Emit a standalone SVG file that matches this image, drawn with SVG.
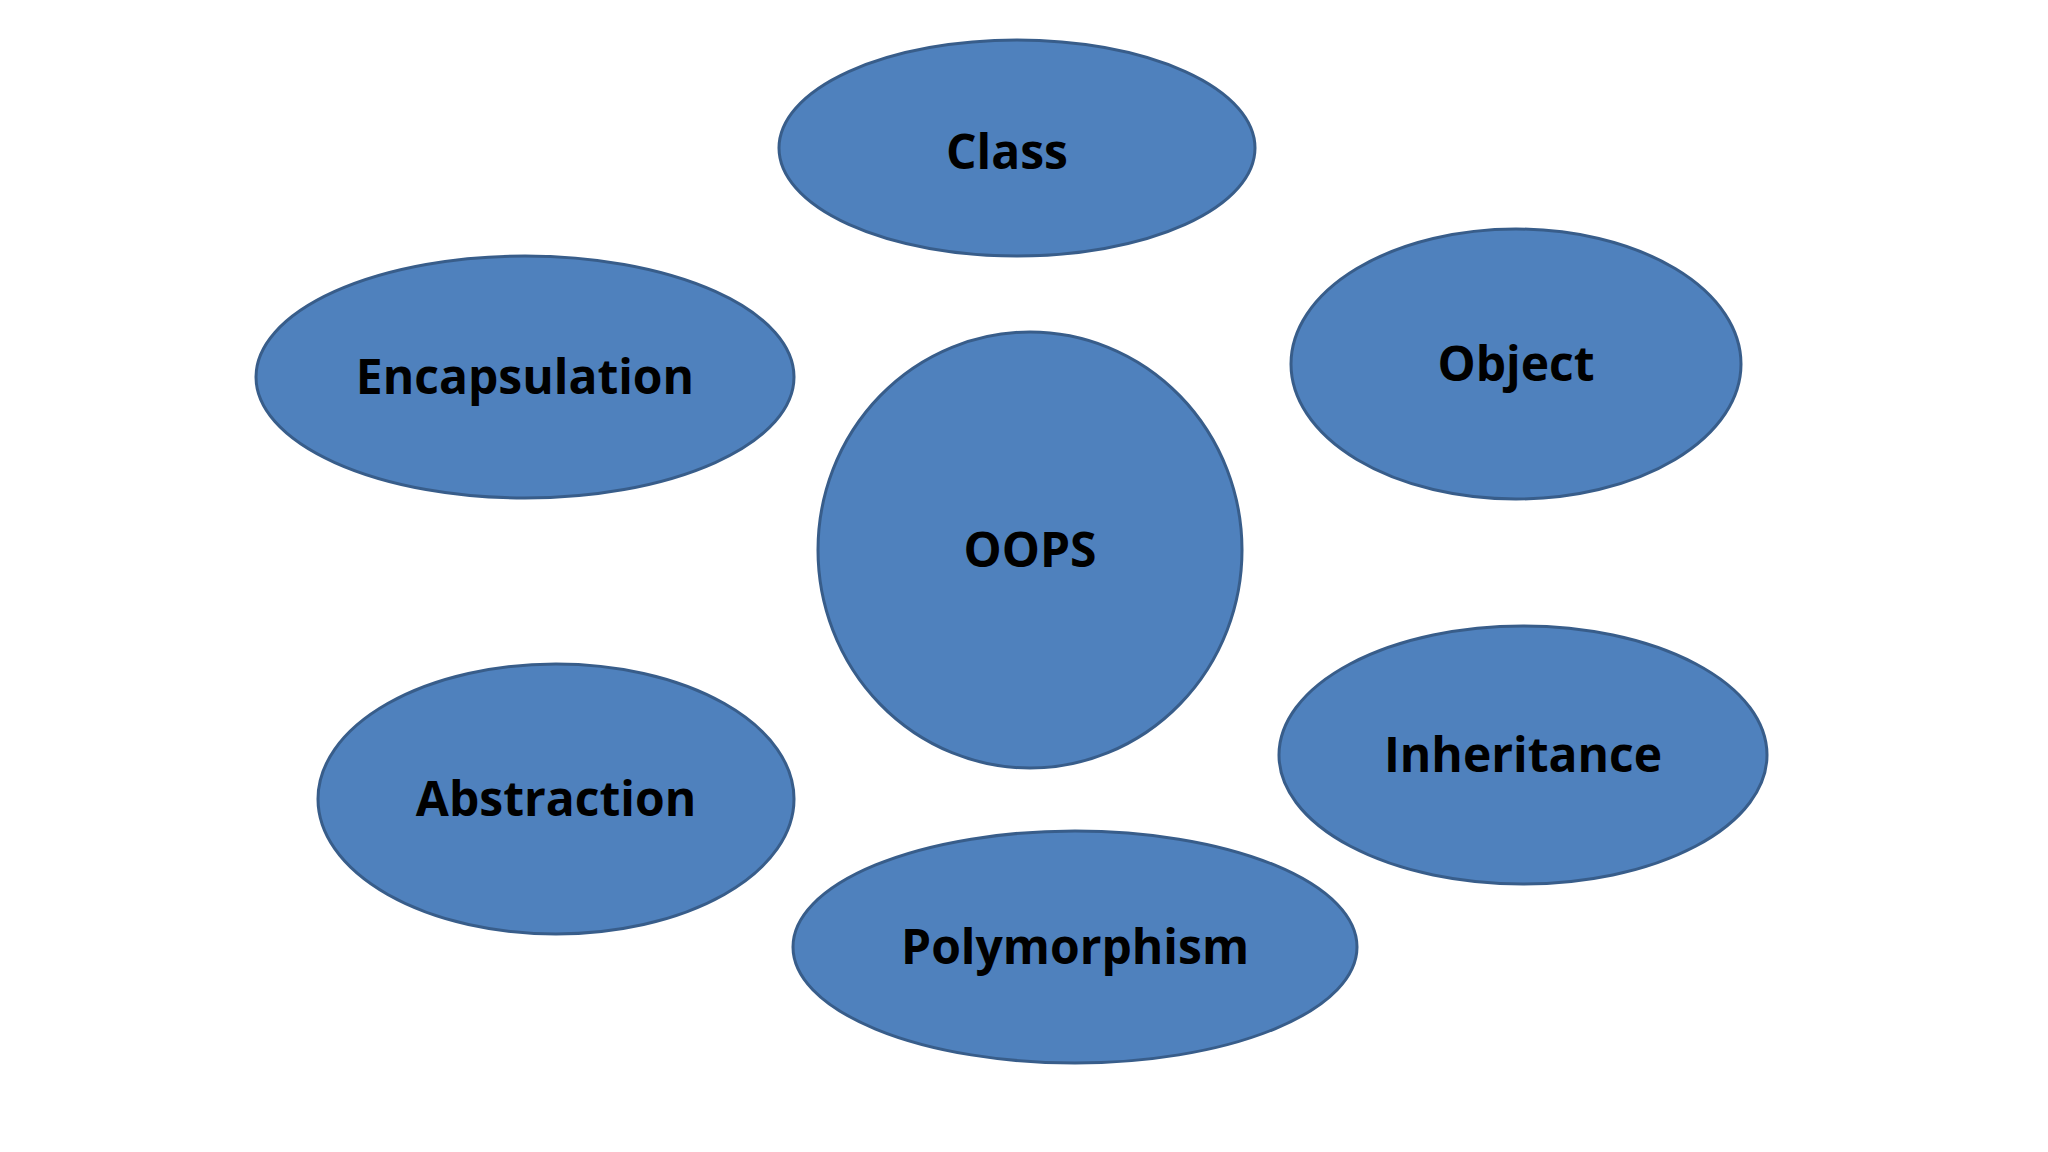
<svg xmlns="http://www.w3.org/2000/svg" width="2048" height="1152" viewBox="0 0 2048 1152">
<style>
.n{fill:#4f81bd;stroke:#385d8a;stroke-width:3}
.t{font-family:"Open Sans","Liberation Sans",sans-serif;font-weight:bold;font-size:48px;fill:#000;text-anchor:middle;dominant-baseline:central}
</style>
<rect width="2048" height="1152" fill="#fff"/>
<g id="connectors"/>
<g id="class"><ellipse class="n" cx="1017" cy="148" rx="238" ry="108"/><text class="t" x="1007" y="150">Class</text></g>
<g id="encapsulation"><ellipse class="n" cx="525" cy="377" rx="269" ry="121"/><text class="t" x="525" y="375">Encapsulation</text></g>
<g id="object"><ellipse class="n" cx="1516" cy="364" rx="225" ry="135"/><text class="t" x="1516" y="362">Object</text></g>
<g id="oops"><ellipse class="n" cx="1030" cy="550" rx="212" ry="218"/><text class="t" x="1030" y="548">OOPS</text></g>
<g id="abstraction"><ellipse class="n" cx="556" cy="799" rx="238" ry="135"/><text class="t" x="556" y="797">Abstraction</text></g>
<g id="inheritance"><ellipse class="n" cx="1523" cy="755" rx="244" ry="129"/><text class="t" x="1523" y="753">Inheritance</text></g>
<g id="polymorphism"><ellipse class="n" cx="1075" cy="947" rx="282" ry="116"/><text class="t" x="1075" y="945">Polymorphism</text></g>
</svg>
